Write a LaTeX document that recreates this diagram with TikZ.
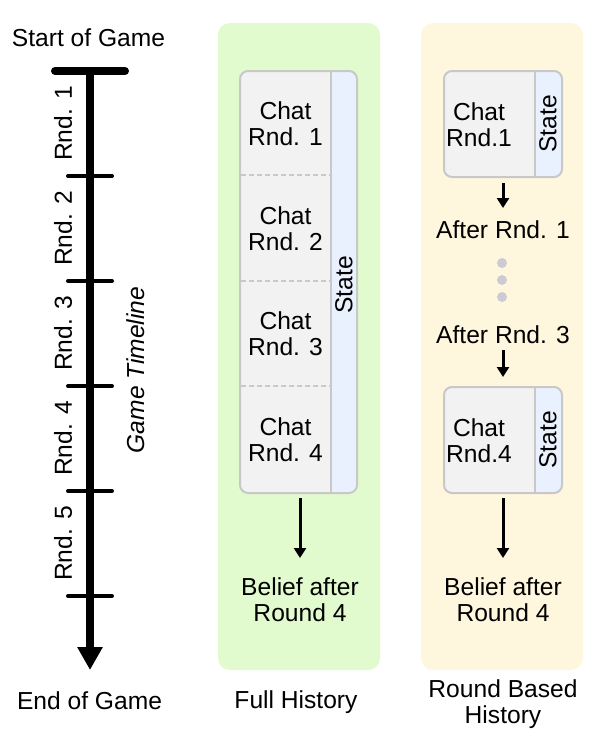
\documentclass[tikz,border=0pt]{standalone}
\usepackage{fontspec}
\setmainfont{Liberation Sans}
\usetikzlibrary{positioning, calc, arrows.meta}
\tikzset{>={Triangle[length=10pt, width=12pt]}}
\definecolor{greenpanel}{HTML}{E2FBCE}
\definecolor{yellowpanel}{HTML}{FFF6DE}
\definecolor{chatgray}{HTML}{F2F2F2}
\definecolor{bordergray}{HTML}{C8C8C8}
\definecolor{statefill}{HTML}{EAF1FE}
\definecolor{dotgray}{HTML}{CBCCD1}
\newcommand{\diagfont}{\fontsize{24.6pt}{26pt}\selectfont}

\begin{document}
\begin{tikzpicture}
    [x=1pt, y=-1pt,
     every node/.style={inner sep=0pt, align=center, font=\diagfont},
     panel/.style={rounded corners=12pt, minimum width=162pt, minimum height=647pt},
     chatbox/.style={draw=bordergray, line width=2pt, fill=chatgray, rounded corners=8pt,
       path picture={
         \fill[statefill] ([xshift=-#1]path picture bounding box.north east) rectangle (path picture bounding box.south east);
         \draw[bordergray, line width=2pt] ([xshift=-#1]path picture bounding box.north east) -- ([xshift=-#1]path picture bounding box.south east);
       }},
     sep/.style={bordergray, line width=1.2pt, dash pattern=on 5pt off 3pt},
     flow/.style={->, line width=3pt}]
    \useasboundingbox (0,0) rectangle (600,739);

    % timeline
    \node (start) [anchor=north] at (88.5,28) {Start of Game};
    \coordinate (barleft) at (55,71);
    \coordinate (barright) at (125,71);
    \coordinate (top) at (90,71);
    \coordinate (bottom) at (90,670);
    \draw [line width=8pt, line cap=round] (barleft) -- (barright);
    \draw [line width=8pt, -{Triangle[length=23pt, width=24pt]}] (top) -- (bottom);
    \foreach \y in {176,281,386,491,596}
      \draw [line width=4pt, line cap=round] (68,\y) -- (112,\y);
    \foreach \i/\y in {1/123.5, 2/228.5, 3/333.5, 4/438.5, 5/543.5}
      \node (rnd\i) [rotate=90] at (63,\y) {Rnd. \i};
    \node (timeline) [rotate=90, font=\diagfont\itshape] at (136,370) {Game Timeline};
    \node (finish) [anchor=north] at (89.5,691) {End of Game};

    % full history
    \node (fullpanel) [panel, fill=greenpanel] at (299,346.5) {};
    \node (fullbox) [chatbox=26pt, minimum width=117pt, minimum height=422pt] at (298.5,282) {};
    \foreach \y in {175,281,386}
      \draw [sep] (241,\y) -- (330,\y);
    \foreach \i/\y in {1/124, 2/229, 3/334, 4/440}
      \node (fullchat\i) at (285.5,\y) {Chat\\Rnd. \i};
    \node (fullstate) [rotate=90] at (344,285) {State};
    \node (fullbelief) [anchor=north] at (300,577) {Belief after\\Round 4};
    \draw [flow, shorten <=4pt, shorten >=19pt] (fullbox.south -| fullbelief.north) -- (fullbelief.north);
    \node (fulllabel) [anchor=north] at (296,690) {Full History};

    % round based history
    \node (roundpanel) [panel, fill=yellowpanel] at (502,346.5) {};
    \node (roundbox1) [chatbox=27pt, minimum width=118pt, minimum height=106pt] at (503,124) {};
    \node (roundchat1) at (479,125) {Chat\\Rnd.1};
    \node (roundstate1) [rotate=90] at (548,124) {State};
    \node (after1) [anchor=north] at (503,220) {After Rnd. 1};
    \draw [flow, shorten <=5pt, shorten >=12pt] (roundbox1.south) -- (after1.north);

    \foreach \y in {263,280,297}
      \fill [dotgray] (502,\y) circle (5pt);

    \node (after3) [anchor=north] at (503,325) {After Rnd. 3};
    \node (roundbox2) [chatbox=27pt, minimum width=118pt, minimum height=106pt] at (503,440) {};
    \draw [flow, shorten <=7pt, shorten >=9pt] (after3.south) -- (roundbox2.north);
    \node (roundchat2) at (479,441) {Chat\\Rnd.4};
    \node (roundstate2) [rotate=90] at (548,440) {State};
    \node (roundbelief) [anchor=north] at (503,577) {Belief after\\Round 4};
    \draw [flow, shorten <=4pt, shorten >=19pt] (roundbox2.south) -- (roundbelief.north);
    \node (roundlabel) [anchor=north] at (503,679) {Round Based\\History};
\end{tikzpicture}
\end{document}
